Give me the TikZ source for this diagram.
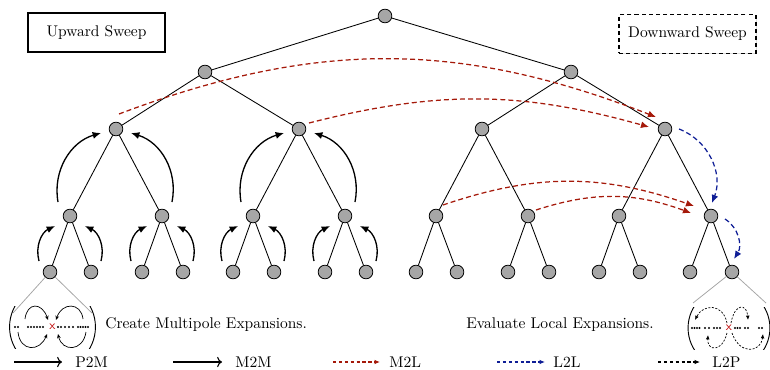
\documentclass[tikz,border=0pt]{standalone}
\usetikzlibrary{arrows.meta,calc,shadows}
\definecolor{mred}{RGB}{165,25,10}
\definecolor{mblue}{RGB}{15,30,150}
\definecolor{nodegray}{RGB}{166,166,166}
\begin{document}
\begin{tikzpicture}[x=0.645pt,y=-0.645pt,
  tn/.style={circle,draw=black,fill=nodegray,line width=0.5pt,minimum size=8.8pt,inner sep=0pt},
  edge/.style={line width=0.55pt},
  m2m/.style={line width=0.85pt,-{Latex[length=5.4pt,width=4.6pt]}},
  m2l/.style={mred,line width=0.8pt,dash pattern=on 3.2pt off 2pt,-{Latex[length=5.2pt,width=4.4pt]}},
  l2l/.style={mblue,line width=0.8pt,dash pattern=on 3.2pt off 2pt,-{Latex[length=5.2pt,width=4.4pt]}},
  p2mleg/.style={line width=0.7pt,->},
  m2lleg/.style={mred,line width=0.7pt,dash pattern=on 2.2pt off 1.6pt,-{Latex[length=3.5pt,width=3pt]}},
  l2lleg/.style={mblue,line width=0.7pt,dash pattern=on 2.2pt off 1.6pt,-{Latex[length=3.5pt,width=3pt]}},
  l2pleg/.style={black,line width=0.7pt,dash pattern=on 2.2pt off 1.6pt,-{Latex[length=3.5pt,width=3pt]}},
  small/.style={line width=0.45pt,-{Stealth[length=2.8pt,width=2.4pt]}},
  smalld/.style={line width=0.45pt,dash pattern=on 1.3pt off 1pt,-{Latex[length=2.8pt,width=2.4pt]}},
  magline/.style={gray!70,line width=0.5pt},
  sweep/.style={fill=white,line width=1.1pt,minimum width=88pt,minimum height=25pt,
    drop shadow={opacity=0.25,shadow xshift=0.7pt,shadow yshift=-0.7pt}},
  lbl/.style={anchor=west,inner sep=0pt}
]
\useasboundingbox (0,0) rectangle (770,370);

% sweep labels
\node[sweep,draw] (up) at (96.5,32.5) {Upward Sweep};
\node[sweep,draw,dash pattern=on 2.6pt off 2pt] (down) at (687.5,34) {Downward Sweep};

% tree nodes
\node[tn] (R) at (385,16) {};
\node[tn] (A1) at (205,72) {};
\node[tn] (A2) at (571,72) {};
\node[tn] (B1) at (116,129) {};
\node[tn] (B2) at (299,129) {};
\node[tn] (B3) at (482,129) {};
\node[tn] (B4) at (665,129) {};
\node[tn] (C1) at (70,216) {};
\node[tn] (C2) at (162,216) {};
\node[tn] (C3) at (253,216) {};
\node[tn] (C4) at (345,216) {};
\node[tn] (C5) at (436,216) {};
\node[tn] (C6) at (528,216) {};
\node[tn] (C7) at (619,216) {};
\node[tn] (C8) at (711,216) {};
\node[tn] (D1) at (50,272) {};
\node[tn] (D2) at (91,272) {};
\node[tn] (D3) at (142,272) {};
\node[tn] (D4) at (183,272) {};
\node[tn] (D5) at (233,272) {};
\node[tn] (D6) at (274,272) {};
\node[tn] (D7) at (325,272) {};
\node[tn] (D8) at (366,272) {};
\node[tn] (D9) at (416,272) {};
\node[tn] (D10) at (457,272) {};
\node[tn] (D11) at (508,272) {};
\node[tn] (D12) at (549,272) {};
\node[tn] (D13) at (599,272) {};
\node[tn] (D14) at (640,272) {};
\node[tn] (D15) at (690,272) {};
\node[tn] (D16) at (732,272) {};

% tree edges
\draw[edge] (R) -- (A1); \draw[edge] (R) -- (A2);
\draw[edge] (A1) -- (B1); \draw[edge] (A1) -- (B2);
\draw[edge] (A2) -- (B3); \draw[edge] (A2) -- (B4);
\draw[edge] (B1) -- (C1); \draw[edge] (B1) -- (C2);
\draw[edge] (B2) -- (C3); \draw[edge] (B2) -- (C4);
\draw[edge] (B3) -- (C5); \draw[edge] (B3) -- (C6);
\draw[edge] (B4) -- (C7); \draw[edge] (B4) -- (C8);
\draw[edge] (C1) -- (D1); \draw[edge] (C1) -- (D2);
\draw[edge] (C2) -- (D3); \draw[edge] (C2) -- (D4);
\draw[edge] (C3) -- (D5); \draw[edge] (C3) -- (D6);
\draw[edge] (C4) -- (D7); \draw[edge] (C4) -- (D8);
\draw[edge] (C5) -- (D9); \draw[edge] (C5) -- (D10);
\draw[edge] (C6) -- (D11); \draw[edge] (C6) -- (D12);
\draw[edge] (C7) -- (D13); \draw[edge] (C7) -- (D14);
\draw[edge] (C8) -- (D15); \draw[edge] (C8) -- (D16);

% M2M arrows (upward sweep)
\foreach \c in {C1,C2,C3,C4} {
  \draw[m2m] ($(\c)+(-31,45)$) to[bend left=40] ($(\c)+(-15,10)$);
  \draw[m2m] ($(\c)+(31,45)$) to[bend right=40] ($(\c)+(15,10)$);
}
\foreach \b in {B1,B2} {
  \draw[m2m] ($(\b)+(-58,73)$) to[bend left=42] ($(\b)+(-15,4)$);
  \draw[m2m] ($(\b)+(56,73)$) to[bend right=42] ($(\b)+(15,4)$);
}

% M2L arrows
\draw[m2l] ($(B1)+(3,-15)$) to[bend left=21] ($(B4)+(-9,-12)$);
\draw[m2l] ($(B2)+(10,-6)$) to[bend left=15] ($(B4)+(-16,-2)$);
\draw[m2l] ($(C5)+(7,-11)$) to[bend left=19] ($(C8)+(-17,-10)$);
\draw[m2l] ($(C6)+(8,-6)$) to[bend left=19] ($(C8)+(-20,-3)$);

% L2L arrows
\draw[l2l] ($(B4)+(14,0)$) to[bend left=45] ($(C8)+(1,-13)$);
\draw[l2l] ($(C8)+(14,3)$) to[bend left=45] ($(D16)+(2,-13)$);

% left magnifier (P2M)
\coordinate (ml1) at (13,313);
\coordinate (ml2) at (92,313);
\draw[magline] (D1) -- (ml1);
\draw[magline] (D1) -- (ml2);
\begin{scope}
  \clip (0,306) rectangle (110,348);
  \draw[line width=0.6pt] (52.5,327) circle (27.7pt);
\end{scope}
\foreach \x in {15,18,28,31,34,37,40,43,58,61,65,69,73,78,80.5,83,85.5,88}
  \fill (\x,327) circle (0.75pt);
\node[red!75!black,inner sep=0pt,font=\footnotesize\sffamily] (xl) at (52.5,327) {x};
\draw[small] (25,319) .. controls (27,302) and (42,302) .. (48,320);
\draw[small] (83,319) .. controls (81,302) and (62,302) .. (56,320);
\draw[small] (18,332) .. controls (20,352) and (40,352) .. (47,334);
\draw[small] (86,332) .. controls (83,352) and (62,352) .. (58,334);

% right magnifier (L2P)
\coordinate (mr1) at (693,303);
\coordinate (mr2) at (766,303);
\draw[magline] (D16) -- (mr1);
\draw[magline] (D16) -- (mr2);
\begin{scope}
  \clip (680,307) rectangle (770,349);
  \draw[line width=0.6pt] (729,328) circle (26.4pt);
\end{scope}
\foreach \x in {692,694.5,697,699.5,705,709,714,717,720,735,737.5,740,745,748,759,762}
  \fill (\x,328) circle (0.75pt);
\node[red!75!black,inner sep=0pt,font=\footnotesize\sffamily] (xr) at (729,328) {x};
\draw[smalld] (727,323) .. controls (723,303) and (703,304) .. (695,320);
\draw[smalld] (731,323) .. controls (735,302) and (747,304) .. (748,320);
\draw[smalld] (727,333) .. controls (722,353) and (707,351) .. (708,335);
\draw[smalld] (732,333) .. controls (740,356) and (761,352) .. (763,334);

% captions
\node[lbl] (cap1) at (105,325) {Create Multipole Expansions.};
\node[lbl] (cap2) at (466,325) {Evaluate Local Expansions.};

% legend
\node[lbl] (lg1) at (75,362) {P2M};
\node[lbl] (lg2) at (235,362) {M2M};
\node[lbl] (lg3) at (389,362) {M2L};
\node[lbl] (lg4) at (553,362) {L2L};
\node[lbl] (lg5) at (712,362) {L2P};
\coordinate (la1) at (14,362);
\coordinate (la2) at (173,362);
\coordinate (la3) at (333,362);
\coordinate (la4) at (497,362);
\coordinate (la5) at (658,362);
\draw[p2mleg] (la1) -- ($(lg1.west)+(-13,0)$);
\draw[p2mleg] (la2) -- ($(lg2.west)+(-13,0)$);
\draw[m2lleg] (la3) -- ($(lg3.west)+(-9,0)$);
\draw[l2lleg] (la4) -- ($(lg4.west)+(-8,0)$);
\draw[l2pleg] (la5) -- ($(lg5.west)+(-12,0)$);
\end{tikzpicture}
\end{document}
